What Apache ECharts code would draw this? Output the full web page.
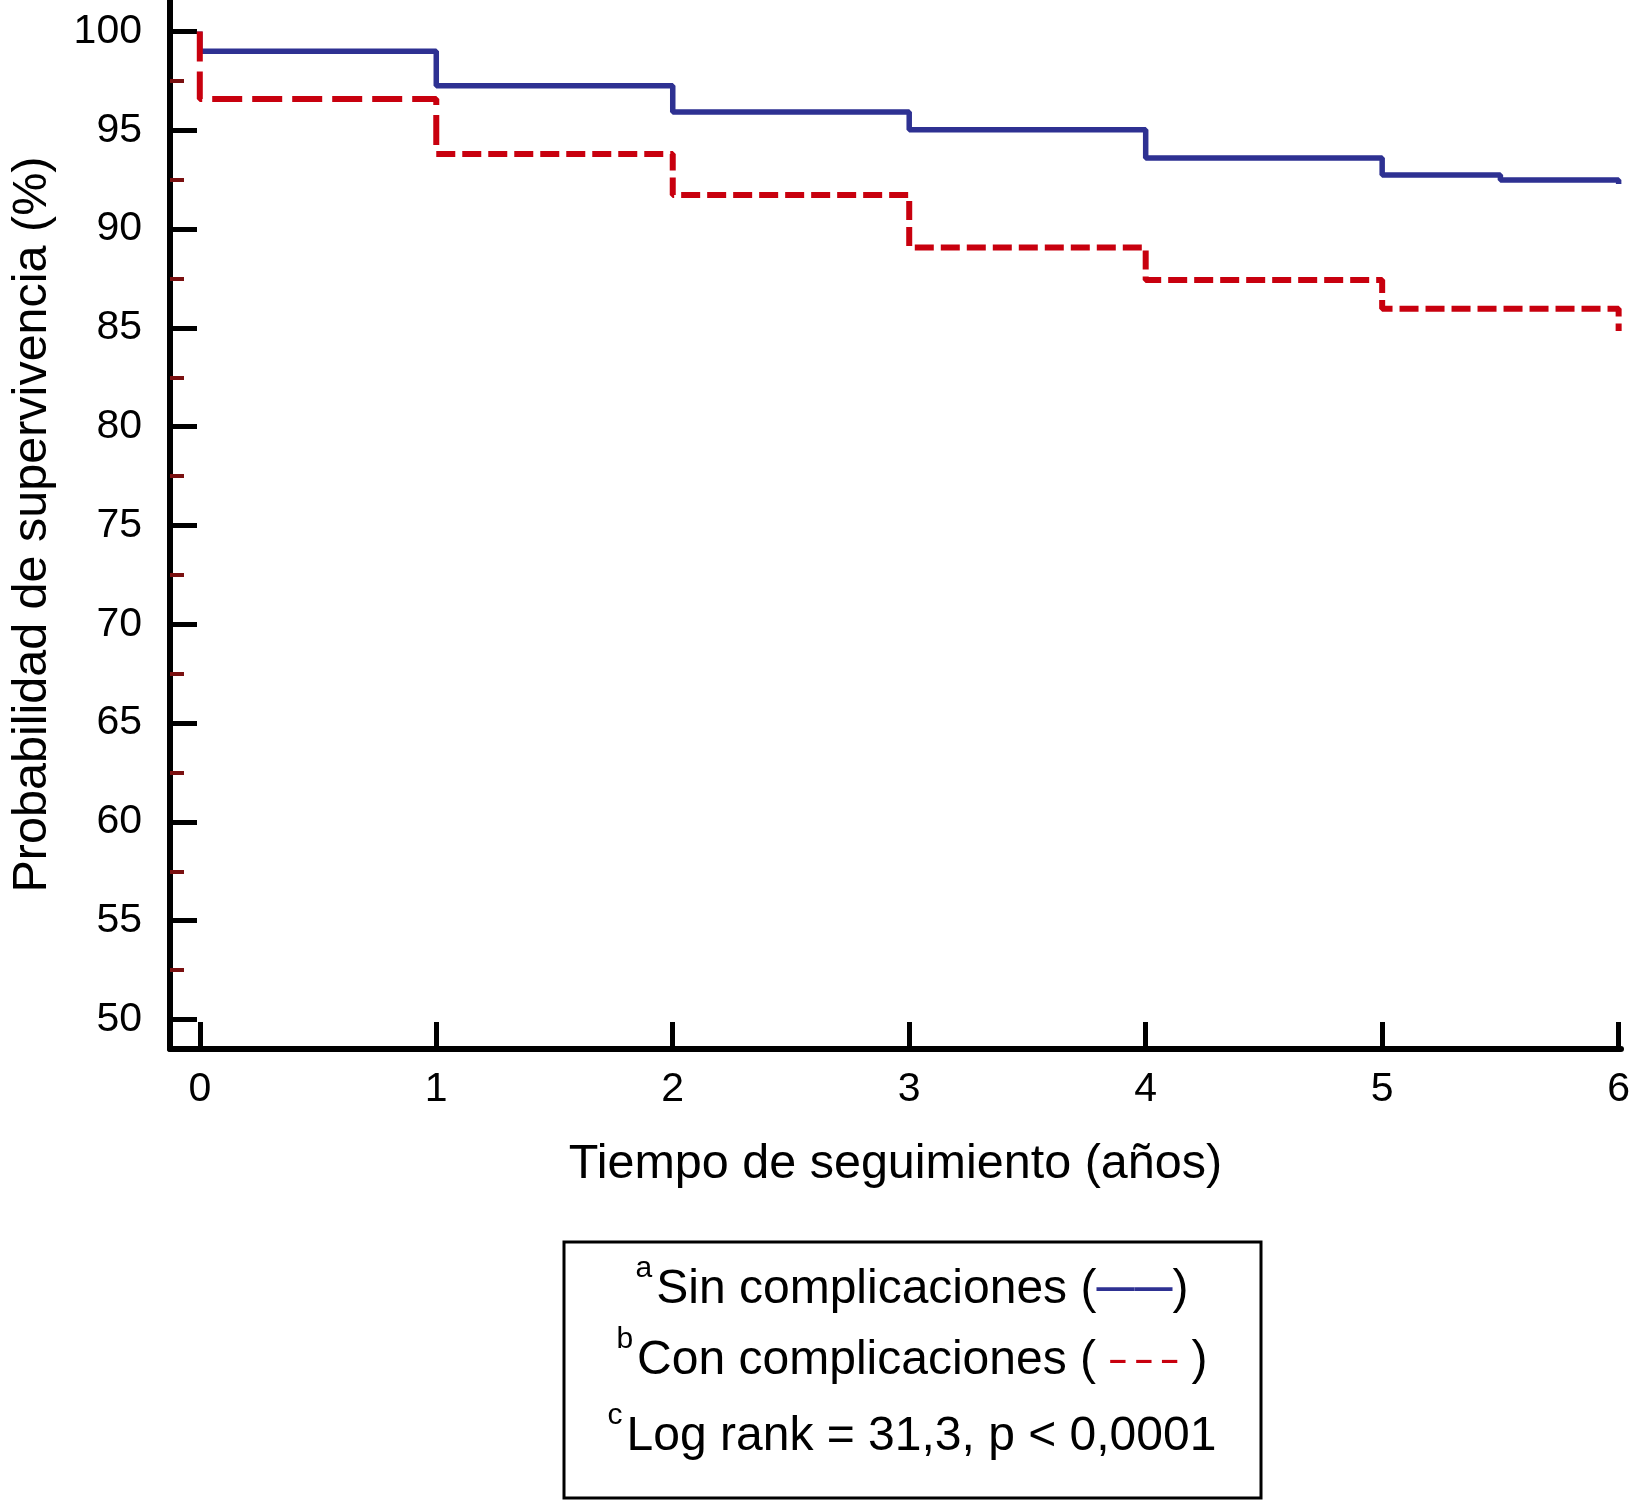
<!DOCTYPE html>
<html>
<head>
<meta charset="utf-8">
<script src="https://cdn.jsdelivr.net/npm/echarts@6/dist/echarts.min.js"></script>
<style>
html,body{margin:0;padding:0;background:#ffffff;}
#chart{width:1651px;height:1502px;}
</style>
</head>
<body>
<div id="chart"></div>
<script>
// ---- data ----
const xTicks = [0, 1, 2, 3, 4, 5, 6];
const yTicks = [50, 55, 60, 65, 70, 75, 80, 85, 90, 95, 100];
const yMinorTicks = [52.5, 57.5, 62.5, 67.5, 72.5, 77.5, 82.5, 87.5, 92.5, 97.5];

const timeSin = [0, 0, 1, 2, 3, 4, 5, 5.5, 6];
const survSin = [100, 99.0, 97.25, 95.92, 95.02, 93.6, 92.73, 92.48, 92.28];

const timeCon = [0, 0, 1, 2, 3, 4, 5, 6];
const survCon = [100, 96.58, 93.8, 91.72, 89.07, 87.42, 85.97, 84.84];

const xTitle = 'Tiempo de seguimiento (años)';
const yTitle = 'Probabilidad de supervivencia (%)';
const seriesNames = ['Sin complicaciones', 'Con complicaciones'];
const statText = 'Log rank = 31,3, p < 0,0001';

const BLUE = '#2e3192';
const RED = '#c8000e';
const FONT = 'Liberation Sans, Arial, Helvetica, sans-serif';

const sinData = timeSin.map((t, i) => [t, survSin[i]]);
const conData = timeCon.map((t, i) => [t, survCon[i]]);
const conFirst = conData.slice(0, 3);
const conRest = conData.slice(2);

const chart = echarts.init(document.getElementById('chart'), null, {renderer: 'canvas'});

const supStyle = {fontSize: 30, fontFamily: FONT, fill: '#000', verticalAlign: 'top', lineHeight: 30, padding: [0, 4, 0, 0]};
const txtStyle = {fontSize: 48, fontFamily: FONT, fill: '#000', lineHeight: 72};

const option = {
  backgroundColor: '#ffffff',
  animation: false,
  grid: {left: 162, top: 0, width: 1459, height: 1049, containLabel: false},
  xAxis: {
    type: 'value',
    min: -0.126,
    max: 6.01,
    name: xTitle,
    nameLocation: 'middle',
    nameGap: 91,
    nameTextStyle: {fontSize: 48.5, color: '#000', fontFamily: FONT},
    axisLine: {show: true, onZero: false, lineStyle: {color: '#000', width: 6}},
    axisTick: {show: true, inside: true, length: 27, customValues: xTicks, lineStyle: {color: '#000', width: 5}},
    axisLabel: {show: true, customValues: xTicks, fontSize: 41, color: '#000', fontFamily: FONT, margin: 20},
    splitLine: {show: false}
  },
  yAxis: [
    {
      type: 'value',
      position: 'left',
      min: 48.51,
      max: 101.59,
      name: yTitle,
      nameLocation: 'middle',
      nameRotate: 90,
      nameGap: 113,
      nameTextStyle: {fontSize: 48.5, color: '#000', fontFamily: FONT},
      axisLine: {show: true, onZero: false, lineStyle: {color: '#000', width: 6}},
      axisTick: {show: true, inside: true, length: 27, customValues: yTicks, lineStyle: {color: '#000', width: 5}},
      axisLabel: {show: true, customValues: yTicks, fontSize: 41, color: '#000', fontFamily: FONT, margin: 28},
      splitLine: {show: false}
    },
    {
      type: 'value',
      position: 'left',
      min: 48.51,
      max: 101.59,
      axisLine: {show: false, onZero: false},
      axisTick: {show: true, inside: true, length: 14, customValues: yMinorTicks, lineStyle: {color: '#7a1010', width: 4}},
      axisLabel: {show: false},
      splitLine: {show: false}
    }
  ],
  series: [
    {
      name: seriesNames[1],
      type: 'line',
      step: 'end',
      data: conFirst,
      showSymbol: false,
      symbol: 'none',
      clip: false,
      lineStyle: {color: RED, width: 6, type: [30, 10]},
      z: 3
    },
    {
      name: seriesNames[1],
      type: 'line',
      step: 'end',
      data: conRest,
      showSymbol: false,
      symbol: 'none',
      clip: false,
      lineStyle: {color: RED, width: 6, type: [19, 7]},
      z: 3
    },
    {
      name: seriesNames[0],
      type: 'line',
      step: 'end',
      data: sinData,
      showSymbol: false,
      symbol: 'none',
      clip: false,
      lineStyle: {color: BLUE, width: 5.5},
      z: 2
    }
  ],
  graphic: [
    {
      type: 'rect',
      shape: {x: 564, y: 1242, width: 697, height: 256},
      style: {fill: 'none', stroke: '#000', lineWidth: 3}
    },
    {
      type: 'text',
      x: 912, y: 1290,
      style: {
        text: '{sup|a}{t|' + seriesNames[0] + ' (}{bl|——}{t|)}',
        align: 'center', verticalAlign: 'middle',
        rich: {
          t: txtStyle,
          sup: supStyle,
          bl: {fontSize: 38, fontWeight: 'bold', fontFamily: FONT, fill: BLUE, lineHeight: 72}
        }
      }
    },
    {
      type: 'text',
      x: 912, y: 1361,
      style: {
        text: '{sup|b}{t|' + seriesNames[1] + ' ( }{rd|– – –}{t| )}',
        align: 'center', verticalAlign: 'middle',
        rich: {
          t: txtStyle,
          sup: supStyle,
          rd: {fontSize: 31, fontWeight: 'bold', fontFamily: FONT, fill: RED, lineHeight: 72}
        }
      }
    },
    {
      type: 'text',
      x: 912, y: 1437,
      style: {
        text: '{sup|c}{t|' + statText + '}',
        align: 'center', verticalAlign: 'middle',
        rich: {
          t: txtStyle,
          sup: supStyle
        }
      }
    }
  ]
};
chart.setOption(option);
</script>
</body>
</html>
